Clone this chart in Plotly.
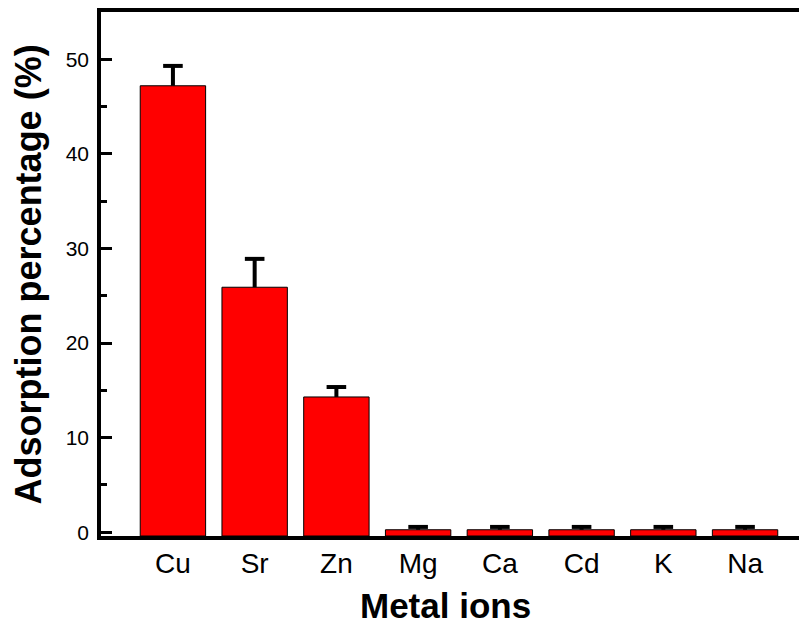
import plotly.graph_objects as go

ions = ["Cu", "Sr", "Zn", "Mg", "Ca", "Cd", "K", "Na"]
adsorption = [47.2, 25.9, 14.3, 0.26, 0.26, 0.26, 0.26, 0.26]
error_plus = [2.1, 3.0, 1.05, 0.3, 0.3, 0.3, 0.3, 0.3]
y_ticks = [0, 10, 20, 30, 40, 50]

Y_MIN = -0.4
FONT = "Liberation Sans, Arial, sans-serif"

fig = go.Figure()
fig.add_trace(go.Bar(
    x=ions,
    y=[v - Y_MIN for v in adsorption],
    base=Y_MIN,
    marker=dict(color="#FF0000", line=dict(color="black", width=1)),
    hovertext=[f"{i}: {v}" for i, v in zip(ions, adsorption)],
))

# upward-only error bars: stem from bar top to top of error, cap at the end
stem_x, stem_y = [], []
for c, v, e in zip(ions, adsorption, error_plus):
    stem_x += [c, c, None]
    stem_y += [v, v + e, None]
fig.add_trace(go.Scatter(
    x=stem_x, y=stem_y, mode="lines",
    line=dict(color="black", width=4), hoverinfo="skip",
))
fig.add_trace(go.Scatter(
    x=ions, y=[v + e for v, e in zip(adsorption, error_plus)],
    mode="markers",
    marker=dict(symbol="line-ew-open", size=14, color="black",
                line=dict(color="black", width=4)),
    hoverinfo="skip",
))

fig.update_layout(
    width=799, height=626,
    margin=dict(l=101, r=0, t=12, b=90),
    paper_bgcolor="white", plot_bgcolor="white",
    bargap=0.2,
    showlegend=False,
    font=dict(family=FONT, color="black"),
    xaxis=dict(
        range=[-0.88, 7.66],
        showline=True, linecolor="black", linewidth=3.5, mirror=True,
        ticks="", showgrid=False, zeroline=False,
        tickfont=dict(size=28, family=FONT),
        ticklabelstandoff=0,
    ),
    yaxis=dict(
        range=[Y_MIN, 55],
        showline=True, linecolor="black", linewidth=3.5, mirror=False,
        tickvals=y_ticks, ticks="inside", ticklen=11, tickwidth=3,
        tickcolor="black",
        minor=dict(dtick=5, ticks="inside", ticklen=6, tickwidth=3,
                   tickcolor="black", showgrid=False),
        showgrid=False, zeroline=False,
        tickfont=dict(size=21, family=FONT),
        ticklabelstandoff=4,
    ),
    annotations=[
        dict(text="<b>Metal ions</b>", x=0.494, y=-0.133, xref="paper",
             yref="paper", xanchor="center", yanchor="middle",
             showarrow=False, font=dict(size=35, family=FONT)),
        dict(text="<b>Adsorption percentage (%)</b>", x=-0.104, y=0.5,
             xref="paper", yref="paper", xanchor="center", yanchor="middle",
             textangle=-90, showarrow=False, font=dict(size=36, family=FONT)),
    ],
)

fig.write_html("out.html")
